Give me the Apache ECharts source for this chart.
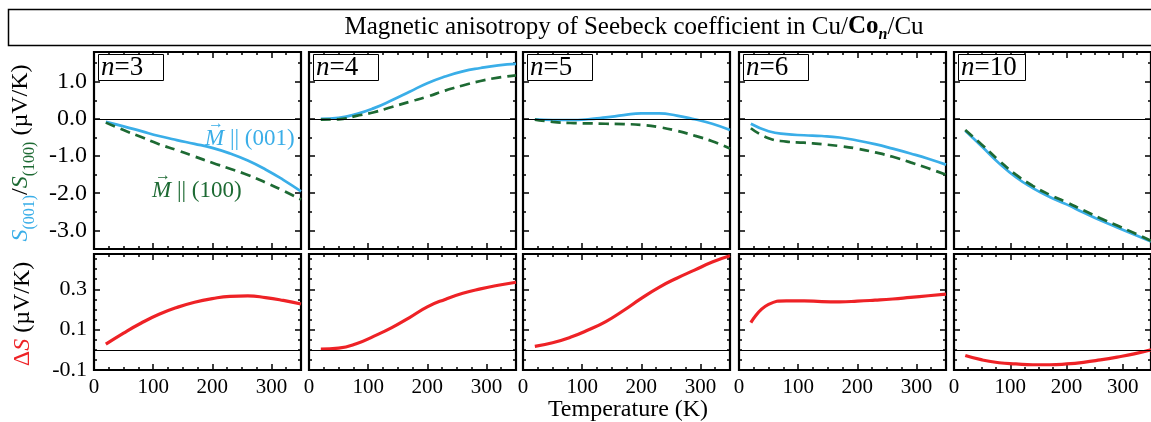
<!DOCTYPE html>
<html lang="en">
<head>
    <meta charset="utf-8">
    <title>Seebeck anisotropy</title>
    <script src="https://cdn.jsdelivr.net/npm/echarts@6/dist/echarts.min.js"></script>
    <style type="text/css">
        html, body {
            margin: 0px;
            padding: 0px;
            background: #fff;
        }
        #main {
            width: 1151px;
            height: 422px;
        }
    </style>
</head>
<body>
<div id="main"></div>
<script>
    // temperatures (K) shared by every panel
    var T = [20, 50, 80, 110, 140, 170, 200, 230, 260, 290, 320, 350];
    var layers = [3, 4, 5, 6, 10];

    // S(001) : M || (001)
    var s001N3 = [-0.08, -0.2, -0.33, -0.46, -0.57, -0.67, -0.78, -0.93, -1.12, -1.36, -1.64, -1.95];
    var s001N4 = [0.0, 0.03, 0.13, 0.29, 0.5, 0.73, 0.96, 1.14, 1.28, 1.37, 1.44, 1.48];
    var s001N5 = [-0.01, -0.03, -0.03, -0.01, 0.04, 0.1, 0.15, 0.15, 0.09, -0.01, -0.13, -0.3];
    var s001N6 = [-0.13, -0.33, -0.41, -0.44, -0.46, -0.5, -0.58, -0.68, -0.8, -0.93, -1.07, -1.23];
    var s001N10 = [-0.32, -0.75, -1.19, -1.57, -1.86, -2.1, -2.3, -2.52, -2.73, -2.92, -3.11, -3.3];

    // S(100) : M || (100)
    var s100N3 = [-0.1, -0.3, -0.49, -0.68, -0.84, -1.01, -1.18, -1.34, -1.51, -1.71, -1.93, -2.17];
    var s100N4 = [-0.02, -0.01, 0.08, 0.18, 0.32, 0.46, 0.6, 0.76, 0.9, 1.02, 1.11, 1.17];
    var s100N5 = [-0.02, -0.08, -0.11, -0.12, -0.13, -0.14, -0.16, -0.22, -0.32, -0.45, -0.6, -0.8];
    var s100N6 = [-0.25, -0.52, -0.61, -0.64, -0.68, -0.73, -0.8, -0.9, -1.02, -1.17, -1.33, -1.5];
    var s100N10 = [-0.3, -0.7, -1.12, -1.5, -1.8, -2.04, -2.24, -2.46, -2.67, -2.87, -3.07, -3.28];

    // Delta S
    var dSN3 = [0.028, 0.083, 0.133, 0.176, 0.21, 0.236, 0.254, 0.265, 0.267, 0.259, 0.245, 0.227];
    var dSN4 = [0.003, 0.008, 0.03, 0.068, 0.11, 0.16, 0.213, 0.25, 0.28, 0.302, 0.32, 0.335];
    var dSN5 = [0.017, 0.035, 0.062, 0.098, 0.14, 0.195, 0.255, 0.31, 0.355, 0.395, 0.435, 0.466];
    var dSN6 = [0.135, 0.225, 0.243, 0.243, 0.239, 0.238, 0.241, 0.246, 0.252, 0.26, 0.268, 0.276];
    var dSN10 = [-0.028, -0.05, -0.064, -0.07, -0.074, -0.074, -0.07, -0.062, -0.05, -0.036, -0.02, 0.0];

    var s001 = [s001N3, s001N4, s001N5, s001N6, s001N10];
    var s100 = [s100N3, s100N4, s100N5, s100N6, s100N10];
    var dS = [dSN3, dSN4, dSN5, dSN6, dSN10];

    // axis ticks
    var xMajor = [0, 100, 200, 300];
    var topMajor = [-3, -2, -1, 0, 1];
    var botMajor = [-0.1, 0.1, 0.3];

    function steps(a, b, d) {
        var out = [];
        for (var v = a; v <= b + 1e-9; v += d) out.push(Math.round(v * 1000) / 1000);
        return out;
    }
    var xMinor = steps(0, 350, 25);
    var topMinor = steps(-3.5, 1.5, 0.5);
    var botMinor = steps(-0.1, 0.45, 0.05);

    var FONT = "'Liberation Serif', 'DejaVu Serif', serif";
    var BLUE = '#3aaee8', GREEN = '#1d6a33', RED = '#ee2226';

    var colLeft = [94, 309, 523, 739, 954];
    var W = 207;

    var grids = [], xAxes = [], yAxes = [], series = [], graphics = [];

    function xAx(g, pos, ticks, len, labels) {
        return {
            type: 'value', gridIndex: g, min: 0, max: 350, position: pos,
            axisLine: {show: false, onZero: false},
            splitLine: {show: false},
            axisTick: {show: true, inside: true, length: len, customValues: ticks,
                lineStyle: {color: '#000', width: 1.5}},
            axisLabel: {show: labels, customValues: xMajor, color: '#000',
                fontFamily: FONT, fontSize: 21, margin: 7}
        };
    }
    function yAx(g, pos, min, max, ticks, len, labels, majors, fs) {
        return {
            type: 'value', gridIndex: g, min: min, max: max, position: pos,
            axisLine: {show: false, onZero: false},
            splitLine: {show: false},
            axisTick: {show: true, inside: true, length: len, customValues: ticks,
                lineStyle: {color: '#000', width: 1.5}},
            axisLabel: {show: labels, customValues: majors, color: '#000',
                fontFamily: FONT, fontSize: fs, margin: 7,
                formatter: function (v) { return v.toFixed(1); }}
        };
    }
    function pairs(ys) {
        return T.map(function (t, i) { return [t, ys[i]]; });
    }
    function zeroLine() {
        return {
            silent: true, symbol: ['none', 'none'], label: {show: false},
            lineStyle: {color: '#000', width: 1, type: 'solid'},
            data: [{yAxis: 0}]
        };
    }

    for (var c = 0; c < 5; c++) {
        for (var r = 0; r < 2; r++) {
            var g = grids.length;
            var isUpper = r === 0;
            grids.push({
                left: colLeft[c], width: W,
                top: isUpper ? 52 : 254, height: isUpper ? 197 : 116,
                show: true, borderColor: '#000', borderWidth: 2.2, backgroundColor: 'transparent'
            });
            var xi = xAxes.length, yi = yAxes.length;
            xAxes.push(xAx(g, 'bottom', xMajor, 6, !isUpper));
            xAxes.push(xAx(g, 'bottom', xMinor, 3, false));
            xAxes.push(xAx(g, 'top', xMajor, 6, false));
            xAxes.push(xAx(g, 'top', xMinor, 3, false));
            if (isUpper) {
                yAxes.push(yAx(g, 'left', -3.5, 1.8, topMajor, 6, c === 0, topMajor, 24));
                yAxes.push(yAx(g, 'left', -3.5, 1.8, topMinor, 3, false, topMajor, 24));
                yAxes.push(yAx(g, 'right', -3.5, 1.8, topMajor, 6, false, topMajor, 24));
                yAxes.push(yAx(g, 'right', -3.5, 1.8, topMinor, 3, false, topMajor, 24));
                series.push({
                    type: 'line', name: 'S(001)', xAxisIndex: xi, yAxisIndex: yi,
                    data: pairs(s001[c]), smooth: 0.5, showSymbol: false,
                    lineStyle: {color: BLUE, width: 2.7}, itemStyle: {color: BLUE},
                    markLine: zeroLine(), z: 3
                });
                series.push({
                    type: 'line', name: 'S(100)', xAxisIndex: xi, yAxisIndex: yi,
                    data: pairs(s100[c]), smooth: 0.5, showSymbol: false,
                    lineStyle: {color: GREEN, width: 2.7, type: [10, 6]}, itemStyle: {color: GREEN},
                    z: 4
                });
            } else {
                yAxes.push(yAx(g, 'left', -0.1, 0.475, botMajor, 6, c === 0, botMajor, 22));
                yAxes.push(yAx(g, 'left', -0.1, 0.475, botMinor, 3, false, botMajor, 22));
                yAxes.push(yAx(g, 'right', -0.1, 0.475, botMajor, 6, false, botMajor, 22));
                yAxes.push(yAx(g, 'right', -0.1, 0.475, botMinor, 3, false, botMajor, 22));
                series.push({
                    type: 'line', name: 'dS', xAxisIndex: xi, yAxisIndex: yi,
                    data: pairs(dS[c]), smooth: 0.5, showSymbol: false,
                    lineStyle: {color: RED, width: 3.2}, itemStyle: {color: RED},
                    markLine: zeroLine(), z: 3
                });
            }
        }
        // n = ... label box
        graphics.push({
            type: 'rect', shape: {x: colLeft[c] + 4.5, y: 54.5, width: layers[c] >= 10 ? 67 : 65, height: 26},
            style: {fill: '#fff', stroke: '#000', lineWidth: 1}, z: 100
        });
        graphics.push({
            type: 'text', x: colLeft[c] + 7, y: 68, z: 101,
            style: {
                text: '{i|n}{t|=' + layers[c] + '}',
                textVerticalAlign: 'middle', verticalAlign: 'middle',
                rich: {
                    i: {fontFamily: FONT, fontSize: 27, fontStyle: 'italic', fill: '#000'},
                    t: {fontFamily: FONT, fontSize: 27, fill: '#000'}
                }
            }
        });
    }

    // title box
    graphics.push({
        type: 'rect', shape: {x: 8.5, y: 9.5, width: 1160, height: 36},
        style: {fill: 'none', stroke: '#000', lineWidth: 1.5}
    });
    graphics.push({
        type: 'text', x: 634, y: 27,
        style: {
            text: '{a|Magnetic anisotropy of Seebeck coefficient in Cu/}{b|Co}{c|n}{a|/Cu}',
            textAlign: 'center', align: 'center', textVerticalAlign: 'middle', verticalAlign: 'middle',
            rich: {
                a: {fontFamily: FONT, fontSize: 25, fill: '#000', lineHeight: 32},
                b: {fontFamily: FONT, fontSize: 25, fontWeight: 'bold', fill: '#000', lineHeight: 32},
                c: {fontFamily: FONT, fontSize: 16, fontWeight: 'bold', fontStyle: 'italic', fill: '#000',
                    verticalAlign: 'bottom', lineHeight: 16}
            }
        }
    });

    // y axis titles
    graphics.push({
        type: 'text', x: 21, y: 153, rotation: Math.PI / 2,
        style: {
            text: '{s|S}{bs|(001)}{k|/}{g|S}{gs|(100)}{k| (\u00b5V/K)}',
            textAlign: 'center', align: 'center', textVerticalAlign: 'middle', verticalAlign: 'middle',
            rich: {
                s: {fontFamily: FONT, fontSize: 24, fontStyle: 'italic', fill: BLUE, lineHeight: 34},
                bs: {fontFamily: FONT, fontSize: 16, fill: BLUE, verticalAlign: 'bottom', lineHeight: 16},
                g: {fontFamily: FONT, fontSize: 24, fontStyle: 'italic', fill: GREEN, lineHeight: 34},
                gs: {fontFamily: FONT, fontSize: 16, fill: GREEN, verticalAlign: 'bottom', lineHeight: 16},
                k: {fontFamily: FONT, fontSize: 24, fill: '#000', lineHeight: 34}
            }
        }
    });
    graphics.push({
        type: 'text', x: 23, y: 314, rotation: Math.PI / 2,
        style: {
            text: '{d|\u0394}{s|S}{k| (\u00b5V/K)}',
            textAlign: 'center', align: 'center', textVerticalAlign: 'middle', verticalAlign: 'middle',
            rich: {
                d: {fontFamily: FONT, fontSize: 24, fill: RED},
                s: {fontFamily: FONT, fontSize: 24, fontStyle: 'italic', fill: RED},
                k: {fontFamily: FONT, fontSize: 24, fill: '#000'}
            }
        }
    });
    // x axis title
    graphics.push({
        type: 'text', x: 628, y: 410,
        style: {
            text: 'Temperature (K)', font: '24px ' + FONT, fill: '#000',
            textAlign: 'center', align: 'center', textVerticalAlign: 'middle', verticalAlign: 'middle'
        }
    });
    // orientation labels in the n=3 panel (M with a vector arrow on top)
    function orient(x, y, txt, col) {
        graphics.push({
            type: 'text', x: x, y: y, z: 100,
            style: {
                text: '{m|M}{t| || ' + txt + '}',
                textVerticalAlign: 'middle', verticalAlign: 'middle',
                rich: {
                    m: {fontFamily: FONT, fontSize: 23, fontStyle: 'italic', fill: col},
                    t: {fontFamily: FONT, fontSize: 23, fill: col}
                }
            }
        });
        graphics.push({
            type: 'text', x: x + 3, y: y - 15, z: 100,
            style: {text: '\u2192', font: '16px ' + FONT, fill: col,
                textVerticalAlign: 'middle', verticalAlign: 'middle'}
        });
    }
    orient(205, 139, '(001)', BLUE);
    orient(152, 191, '(100)', GREEN);

    var myChart = echarts.init(document.getElementById('main'));
    myChart.setOption({
        animation: false,
        backgroundColor: '#fff',
        grid: grids,
        xAxis: xAxes,
        yAxis: yAxes,
        series: series,
        graphic: graphics
    });
</script>
</body>
</html>
